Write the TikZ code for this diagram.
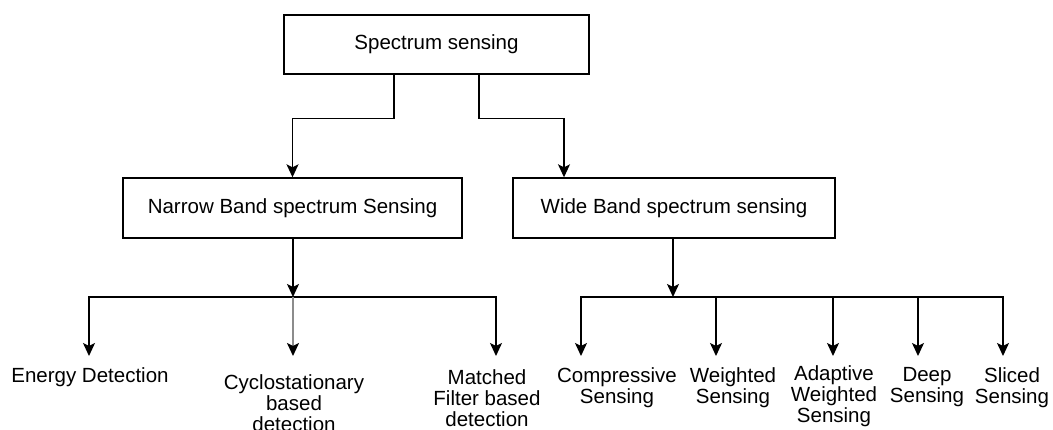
\documentclass[tikz,border=0pt]{standalone}
\usepackage{fontspec}
\setmainfont{Liberation Sans}
\usetikzlibrary{arrows.meta}
\usetikzlibrary{calc}

\begin{document}
\begin{tikzpicture}[x=1pt,y=-1pt,line width=1.4pt,>={Stealth[length=13pt,width=12pt,inset=3pt]},
	every node/.style={font=\fontsize{20.5}{21}\selectfont},
	main box/.style={draw,rectangle,inner sep=0pt,minimum height=60pt},
	leaf/.style={anchor=north,align=center,inner xsep=0pt,inner ysep=11pt},
	gray link/.style={draw=black!45,line width=2pt,-{Stealth[length=13pt,width=12pt,inset=3pt,color=black]}}]

	\useasboundingbox (0,0) rectangle (1053,429);

	\node[main box,minimum width=305pt,minimum height=59pt] (SS) at (436.5,44.5) {Spectrum sensing};
	\node[main box,minimum width=339pt] (NB) at (292.5,208) {Narrow Band spectrum Sensing};
	\node[main box,minimum width=322pt] (WB) at (674,208) {Wide Band spectrum sensing};

	% junctions on the two buses
	\coordinate (nbus) at (293,297);
	\coordinate (wbus) at (673,297);

	% arrow tips above the leaves
	\coordinate (t1) at (89,356);
	\coordinate (t2) at (293,356);
	\coordinate (t3) at (496,356);
	\coordinate (t4) at (581,356);
	\coordinate (t5) at (716,356);
	\coordinate (t6) at (833,356);
	\coordinate (t7) at (918,356);
	\coordinate (t8) at (1003,356);

	\node[leaf] (ED) at ([xshift=1pt]t1) {Energy Detection};
	\node[leaf,inner ysep=18pt] (CD) at ([xshift=1pt]t2) {Cyclostationary\\based\\detection};
	\node[leaf,inner ysep=13pt] (MF) at ([xshift=-9pt]t3) {Matched\\Filter based\\detection};
	\node[leaf] (CS) at ([xshift=36pt]t4) {Compressive\\Sensing};
	\node[leaf] (WS) at ([xshift=17pt]t5) {Weighted\\Sensing};
	\node[leaf,inner ysep=9pt] (AW) at ([xshift=1pt]t6) {Adaptive\\Weighted\\Sensing};
	\node[leaf] (DS) at ([xshift=9pt]t7) {Deep\\Sensing};
	\node[leaf] (SL) at ([xshift=9pt]t8) {Sliced\\Sensing};

	\draw[->] ([xshift=-42.5pt]SS.south) -- ++(0,44) -| (NB.north);
	\draw[->] ([xshift=42.5pt]SS.south) -- ++(0,44) -| ([xshift=-110pt]WB.north);

	\draw[->] (nbus |- NB.south) -- (nbus);
	\draw[<->] (t1) |- (nbus) -| (t3);
	\draw[gray link] (nbus) -- (t2);

	\draw[->] (wbus |- WB.south) -- (wbus);
	\draw[<->] (t4) |- (wbus) -| (t8);
	\draw[->] (t5 |- wbus) -- (t5);
	\draw[->] (t6 |- wbus) -- (t6);
	\draw[->] (t7 |- wbus) -- (t7);

\end{tikzpicture}
\end{document}
